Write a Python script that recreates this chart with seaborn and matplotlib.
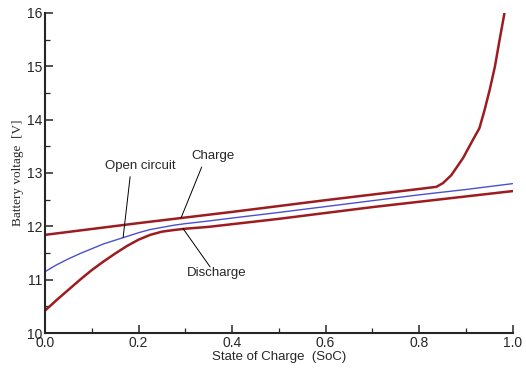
import numpy as np
import pandas as pd
import matplotlib
matplotlib.use("Agg")
import matplotlib.pyplot as plt
import seaborn as sns

# state of charge / voltage
soc_oc = [0, 0.025, 0.05, 0.075, 0.1, 0.125, 0.15, 0.175, 0.2, 0.225, 0.25, 0.275, 0.3,
          0.35, 0.4, 0.5, 0.6, 0.7, 0.8, 0.9, 1.0]
v_open = [11.15, 11.28, 11.39, 11.49, 11.58, 11.67, 11.74, 11.81, 11.88, 11.94, 11.98, 12.02, 12.05,
          12.10, 12.155, 12.26, 12.37, 12.48, 12.59, 12.69, 12.80]

soc_dis = [0, 0.025, 0.05, 0.075, 0.1, 0.125, 0.15, 0.175, 0.2, 0.225, 0.25, 0.275, 0.3,
           0.35, 0.4, 0.5, 0.6, 0.7, 0.8, 0.9, 1.0]
v_dis = [10.42, 10.62, 10.81, 11.00, 11.18, 11.34, 11.49, 11.63, 11.75, 11.84, 11.90, 11.93, 11.955,
         11.99, 12.04, 12.14, 12.25, 12.36, 12.46, 12.56, 12.66]

soc_ch = [0, 0.2, 0.4, 0.6, 0.8, 0.837, 0.851, 0.869, 0.894, 0.915, 0.929, 0.94, 0.951, 0.962,
          0.972, 0.983]
v_ch = [11.84, 12.06, 12.27, 12.49, 12.70, 12.74, 12.81, 12.96, 13.28, 13.62, 13.84, 14.18, 14.56, 14.99,
        15.49, 16.02]

red = "#9e1c1f"
blue = "#4b4fd0"

sns.set_style("ticks")
plt.rcParams['font.family'] = ['Liberation Sans', 'DejaVu Sans']

fig = plt.figure(figsize=(5.26, 3.68), dpi=100)
ax = fig.add_axes([0.0856, 0.095, 0.889, 0.87])

sns.lineplot(x=soc_ch, y=v_ch, color=red, lw=1.8, ax=ax, sort=False)
sns.lineplot(x=soc_dis, y=v_dis, color=red, lw=1.8, ax=ax, sort=False)
sns.lineplot(x=soc_oc, y=v_open, color=blue, lw=1.0, ax=ax, sort=False)

ax.set_xlim(0, 1)
ax.set_ylim(10, 16)
ax.set_xticks(np.arange(0, 1.01, 0.2))
ax.set_xticks(np.arange(0, 1.01, 0.1), minor=True)
ax.set_yticks(range(10, 17))
ax.set_yticks(np.arange(10, 16.01, 0.5), minor=True)
ax.xaxis.set_major_formatter(matplotlib.ticker.FormatStrFormatter('%.1f'))
ax.tick_params(which='major', direction='in', length=6, width=1.1, labelsize=10, pad=2)
ax.tick_params(which='minor', direction='in', length=3.5, width=0.9)
for s in ['top', 'right']:
    ax.spines[s].set_visible(False)
for s in ['left', 'bottom']:
    ax.spines[s].set_linewidth(1.5)

ax.set_xlabel("State of Charge  (SoC)", fontsize=9.5, labelpad=1)
ax.set_ylabel("Battery voltage  [V]", fontsize=9.5, family='Liberation Serif', labelpad=2)

# labels with leader lines
line_kw = dict(arrowstyle='-', lw=0.7, color='black', shrinkA=0, shrinkB=0)
ax.annotate('', xy=(0.167, 11.79), xytext=(0.182, 12.93), arrowprops=line_kw)
ax.annotate('', xy=(0.291, 12.16), xytext=(0.335, 13.11), arrowprops=line_kw)
ax.annotate('', xy=(0.295, 11.96), xytext=(0.353, 11.24), arrowprops=line_kw)
ax.text(0.203, 13.13, "Open circuit", fontsize=9.5, ha='center', va='center')
ax.text(0.359, 13.32, "Charge", fontsize=9.5, ha='center', va='center')
ax.text(0.368, 11.12, "Discharge", fontsize=9.5, ha='center', va='center')

fig.savefig("out.png", dpi=100)
